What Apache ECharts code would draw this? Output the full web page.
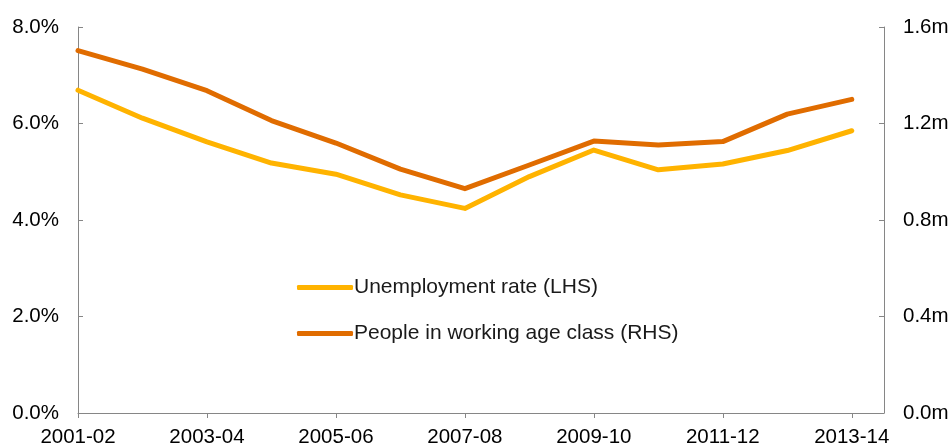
<!DOCTYPE html>
<html>
<head>
<meta charset="utf-8">
<script src="https://cdn.jsdelivr.net/npm/echarts@6/dist/echarts.min.js"></script>
<style>
  html, body { margin: 0; padding: 0; background: #fff; }
  #chart { width: 952px; height: 448px; }
</style>
</head>
<body>
<div id="chart"></div>
<script>
// Financial years shown on the x axis
const years = ['2001-02', '2002-03', '2003-04', '2004-05', '2005-06', '2006-07', '2007-08',
               '2008-09', '2009-10', '2010-11', '2011-12', '2012-13', '2013-14'];
// Unemployment rate, per cent (left axis)
const unemploymentRate = [6.69, 6.11, 5.62, 5.18, 4.95, 4.52, 4.24, 4.90, 5.45, 5.04, 5.16, 5.44, 5.85];
// People in working age class, millions (right axis)
const workingAgePeople = [1.502, 1.425, 1.336, 1.212, 1.119, 1.011, 0.930, 1.028, 1.127, 1.111, 1.125, 1.239, 1.300];
// Tick values on the two vertical axes
const leftTicks = [0, 2, 4, 6, 8];
const rightTicks = [0, 0.4, 0.8, 1.2, 1.6];

const seriesNames = ['Unemployment rate (LHS)', 'People in working age class (RHS)'];
const axisGrey = '#868686';
const font = 'Liberation Sans, Arial, sans-serif';
const fontSize = 20.5;
const yearTicks = years.map((_, i) => i).filter(i => i % 2 === 0);

// one legend block per series so each row sits on its own line
const legendRow = (name, top) => ({
  orient: 'vertical',
  left: 297,
  top: top,
  padding: 0,
  icon: 'roundRect',
  itemWidth: 56,
  itemHeight: 5,
  textStyle: { fontFamily: font, fontSize: 21, color: '#1a1a1a', padding: [0, 0, 0, -4] },
  data: [name]
});

const chart = echarts.init(document.getElementById('chart'), null, { renderer: 'canvas' });
chart.setOption({
  animation: false,
  backgroundColor: '#fff',
  grid: { left: 78, right: 68, top: 27, bottom: 35, containLabel: false },
  legend: [legendRow(seriesNames[0], 277), legendRow(seriesNames[1], 323)],
  xAxis: {
    type: 'value',
    min: 0,
    max: years.length - 0.5,
    interval: 2,
    splitLine: { show: false },
    axisLine: { show: true, lineStyle: { color: axisGrey, width: 1 } },
    axisTick: { show: true, inside: false, length: 5, lineStyle: { color: axisGrey }, customValues: yearTicks },
    axisLabel: {
      customValues: yearTicks,
      formatter: v => years[v] || '',
      fontFamily: font, fontSize: fontSize, color: '#000', margin: 14
    }
  },
  yAxis: [
    {
      type: 'value',
      min: 0, max: 8, interval: 2,
      position: 'left',
      splitLine: { show: false },
      axisLine: { show: true, lineStyle: { color: axisGrey, width: 1 } },
      axisTick: { show: true, inside: true, length: 5, lineStyle: { color: axisGrey }, customValues: leftTicks },
      axisLabel: {
        customValues: leftTicks,
        formatter: v => v.toFixed(1) + '%',
        fontFamily: font, fontSize: fontSize, color: '#000', margin: 19
      }
    },
    {
      type: 'value',
      min: 0, max: 1.6, interval: 0.4,
      position: 'right',
      splitLine: { show: false },
      axisLine: { show: true, lineStyle: { color: axisGrey, width: 1 } },
      axisTick: { show: true, inside: true, length: 5, lineStyle: { color: axisGrey }, customValues: rightTicks },
      axisLabel: {
        customValues: rightTicks,
        formatter: v => v.toFixed(1) + 'm',
        fontFamily: font, fontSize: fontSize, color: '#000', margin: 19
      }
    }
  ],
  series: [
    {
      name: seriesNames[0],
      type: 'line',
      yAxisIndex: 0,
      data: unemploymentRate.map((v, i) => [i, v]),
      symbol: 'none',
      color: '#FFB300',
      lineStyle: { width: 5, color: '#FFB300', cap: 'round', join: 'round' }
    },
    {
      name: seriesNames[1],
      type: 'line',
      yAxisIndex: 1,
      data: workingAgePeople.map((v, i) => [i, v]),
      symbol: 'none',
      color: '#E06C00',
      lineStyle: { width: 5, color: '#E06C00', cap: 'round', join: 'round' }
    }
  ]
});
</script>
</body>
</html>
